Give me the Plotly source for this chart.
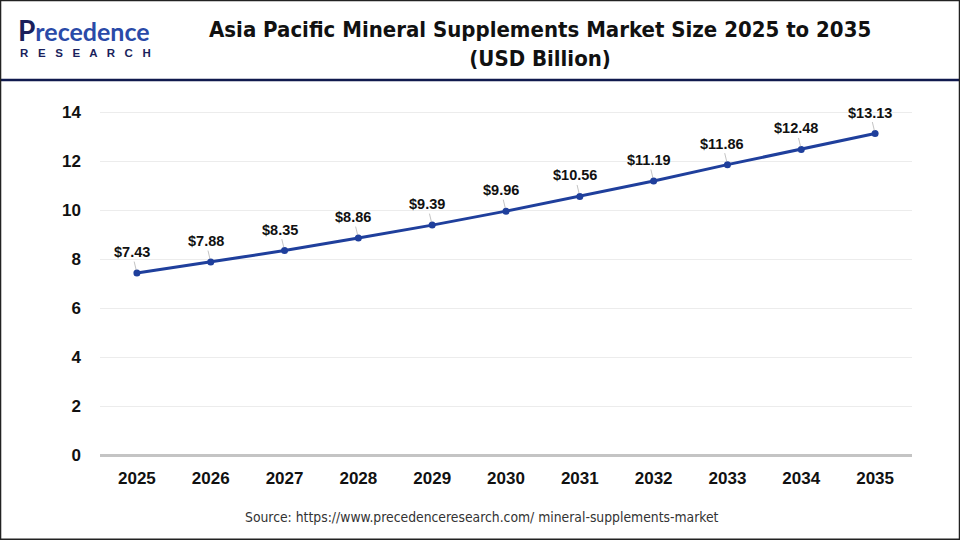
import plotly.graph_objects as go

years = ["2025", "2026", "2027", "2028", "2029", "2030", "2031", "2032", "2033", "2034", "2035"]
market_size = [7.43, 7.88, 8.35, 8.86, 9.39, 9.96, 10.56, 11.19, 11.86, 12.48, 13.13]
y_ticks = [0, 2, 4, 6, 8, 10, 12, 14]

title_font = "DejaVu Sans Condensed, DejaVu Sans, sans-serif"

fig = go.Figure()
fig.add_trace(go.Scatter(
    x=years, y=market_size, mode="lines+markers",
    line=dict(color="#1f3f9c", width=3),
    marker=dict(color="#1f3f9c", size=7),
    hoverinfo="skip", cliponaxis=False,
))

# data labels with small leader lines (category axis -> use index positions)
for i, v in enumerate(market_size):
    fig.add_annotation(
        x=i, y=v, text="<b>$" + format(v, ".2f") + "</b>",
        showarrow=True, arrowhead=0, arrowwidth=0.6, arrowcolor="#9a9a9a",
        ax=-5, ay=-21, standoff=3,
        font=dict(family="Arial", size=14.5, color="#111111"),
    )

# header: logo and title
fig.add_annotation(
    xref="paper", yref="paper", x=-0.103, y=1.197, xanchor="left", yanchor="middle",
    text="<b><span style='color:#1a1f5c;font-size:28px'>P</span>recedence</b>", showarrow=False,
    font=dict(family="Lato, Arial", size=25, color="#2a4aa8"),
)
fig.add_annotation(
    xref="paper", yref="paper", x=-0.101, y=1.133, xanchor="left", yanchor="middle",
    text="<b>R   E   S   E   A   R   C   H</b>", showarrow=False,
    font=dict(family="Arial", size=11.5, color="#1a1f5c"),
)
fig.add_annotation(
    xref="paper", yref="paper", x=0.542, y=1.158, xanchor="center", yanchor="middle",
    text="<b>Asia Pacific Mineral Supplements Market Size 2025 to 2035<br>(USD Billion)</b>",
    showarrow=False, font=dict(family=title_font, size=22, color="#111111"),
)
fig.add_annotation(
    xref="paper", yref="paper", x=0.47, y=-0.175, xanchor="center", yanchor="middle",
    text="Source: https://www.precedenceresearch.com/ mineral-supplements-market",
    showarrow=False, font=dict(family=title_font, size=13.8, color="#333333"),
)

# header rule and outer border
fig.add_shape(type="line", xref="paper", yref="paper", x0=-0.13, x1=1.06, y0=1.0563, y1=1.0563,
              line=dict(color="#101a4e", width=2.5))
fig.add_shape(type="rect", xref="paper", yref="paper", x0=-0.1225, x1=1.0585, y0=-0.2375, y1=1.2805,
              line=dict(color="#222222", width=1.5))

fig.update_layout(
    width=960, height=540,
    margin=dict(l=100, r=48, t=100, b=85),
    paper_bgcolor="white", plot_bgcolor="white",
    showlegend=False,
    xaxis=dict(
        type="category", range=[-0.5, 10.5], showgrid=False, zeroline=False,
        showline=False, ticks="",
        tickfont=dict(family="Arial", size=17, color="#111111", weight="bold"),
        ticklabelstandoff=11,
    ),
    yaxis=dict(
        range=[0, 14.5], tickvals=y_ticks, showgrid=True, gridcolor="#ececec", gridwidth=1,
        zeroline=True, zerolinecolor="#c4c4c4", zerolinewidth=2.5,
        showline=False, ticks="",
        tickfont=dict(family="Arial", size=17, color="#111111", weight="bold"),
        ticklabelstandoff=18,
    ),
)

fig.write_html("out.html", config={"displayModeBar": False},
               post_script="document.body.style.margin='0';")
